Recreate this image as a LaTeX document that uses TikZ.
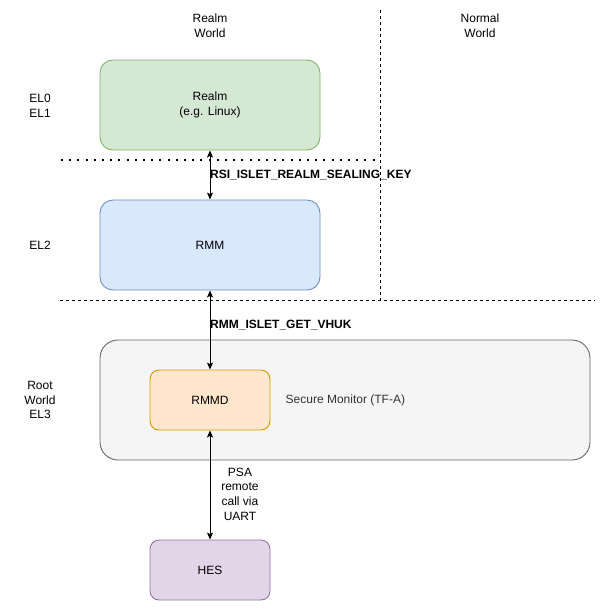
\documentclass[tikz,border=0pt]{standalone}
\usepackage{fontspec}
\setmainfont{Liberation Sans}
\usepackage{tikz}
\usetikzlibrary{arrows.meta,positioning}
\definecolor{ink}{HTML}{000000}
\definecolor{muted}{HTML}{333333}
\definecolor{realmfill}{HTML}{D5E8D4}
\definecolor{realmline}{HTML}{82B366}
\definecolor{rmmfill}{HTML}{DAE8FC}
\definecolor{rmmline}{HTML}{6C8EBF}
\definecolor{monfill}{HTML}{F5F5F5}
\definecolor{monline}{HTML}{666666}
\definecolor{rmmdfill}{HTML}{FFE6CC}
\definecolor{rmmdline}{HTML}{D79B00}
\definecolor{hesfill}{HTML}{E1D5E7}
\definecolor{hesline}{HTML}{9673A6}
\tikzset{
  >={Stealth[length=7pt,width=6pt,inset=1.5pt]},
  txt/.style={font=\fontsize{12}{14.7}\selectfont,text=ink,align=center,inner sep=0pt},
  bigbox/.style={txt,minimum width=220pt,minimum height=90pt,rounded corners=13pt,line width=.9pt},
  smallbox/.style={txt,minimum width=120pt,minimum height=60pt,rounded corners=9pt,line width=.9pt},
  callname/.style={font=\bfseries\fontsize{12}{14.7}\selectfont,text=ink,anchor=west,inner sep=0pt},
  link/.style={<->,line width=1pt,color=ink},
  sep/.style={line width=.8pt,dash pattern=on 3pt off 3pt,color=ink},
  elsep/.style={line width=2pt,dash pattern=on 2pt off 6.2pt,color=ink},
}

\begin{document}
\begin{tikzpicture}[x=1pt,y=-1pt]
  \useasboundingbox (0,0) rectangle (602,611);

  \draw[sep] (380,10) -- (380,300);
  \draw[sep] (60,300) -- (595,300);
  \draw[elsep] (61,159.5) -- (380,159.5);

  \node[txt] (realmworld) at (210,26) {Realm\\World};
  \node[txt] (normalworld) at (480,26) {Normal\\World};
  \node[txt] (el01) at (40,106) {EL0\\EL1};
  \node[txt] (el2) at (40,245) {EL2};
  \node[txt] (el3) at (40,400) {Root\\World\\EL3};

  \node[bigbox,draw=realmline,fill=realmfill] (realm) at (210,105) {Realm\\(e.g. Linux)};
  \node[bigbox,draw=rmmline,fill=rmmfill] (rmm) at (210,245) {RMM};
  \node[txt,draw=monline,fill=monfill,minimum width=490pt,minimum height=120pt,
    rounded corners=18pt,line width=.9pt] (monitor) at (345,400) {};
  \node[txt,text=muted,anchor=west] (monlabel) at (285.5,400) {Secure Monitor (TF-A)};
  \node[smallbox,draw=rmmdline,fill=rmmdfill] (rmmd) at (210,400) {RMMD};
  \node[smallbox,draw=hesline,fill=hesfill] (hes) at (210,570) {HES};

  \draw[link] (realm) -- (rmm);
  \draw[link] (rmm) -- (rmmd);
  \draw[link] (rmmd) -- (hes);
  \node[callname] (sealkey) at (210,175) {RSI\_ISLET\_REALM\_SEALING\_KEY};
  \node[callname] (vhuk) at (210,325) {RMM\_ISLET\_GET\_VHUK};
  \node[txt] (psa) at (240,494) {PSA\\remote\\call via\\UART};
\end{tikzpicture}
\end{document}
